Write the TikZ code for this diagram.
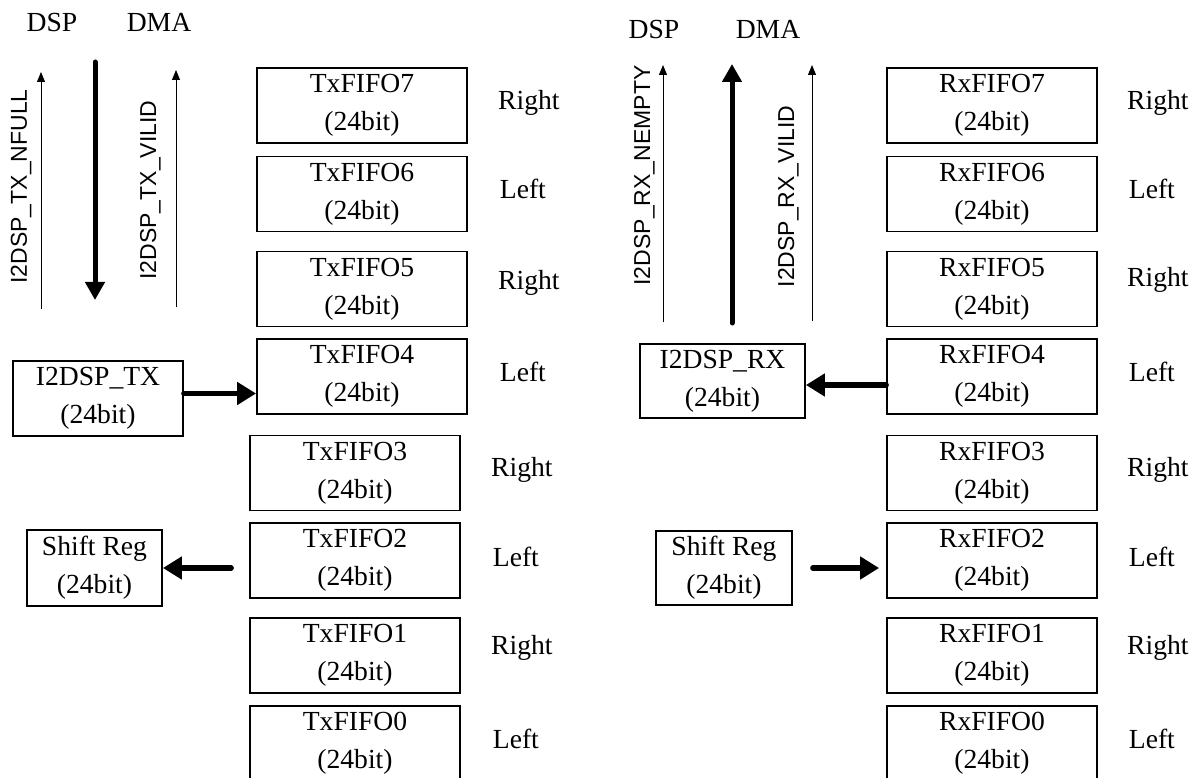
\documentclass[tikz,border=0pt]{standalone}
\usepackage{fontspec}
\setmainfont{Liberation Serif}
\newfontfamily\arialfont{Liberation Sans}
\usetikzlibrary{arrows.meta,calc}
\begin{document}
\begin{tikzpicture}[x=1pt,y=-1pt,
  fifo/.style={draw,line width=1.8pt,minimum width=210pt,minimum height=75pt,inner sep=0pt,align=center,font=\fontsize{27.6}{38}\selectfont},
  lbl/.style={font=\fontsize{27.6}{33}\selectfont,inner sep=0pt,anchor=base},
  sig/.style={font=\arialfont\fontsize{23}{27}\selectfont,rotate=90,anchor=base,inner sep=0pt},
  thinarrow/.style={line width=1pt,-{Triangle[width=8pt,length=10pt]}},
  thickarrow/.style={line width=5pt,line cap=round,-{Triangle[width=19pt,length=18pt]}},
  harrow/.style={line width=5.5pt,line cap=round,-{Triangle[width=22pt,length=19pt]}}]
\useasboundingbox (0,0) rectangle (1200,778);

% ---------- TX side ----------
\node[lbl] (dsptx) at (52,32) {DSP};
\node[lbl] (dmatx) at (159,32) {DMA};

\coordinate (tn0) at (41,309);
\coordinate (tn1) at (41,72);
\draw[thinarrow] (tn0) -- (tn1);
\node[sig] (nfull) at (27,186.5) {I2DSP\_TX\_NFULL};

\coordinate (td0) at (95,62);
\coordinate (td1) at (95,300);
\draw[thickarrow] (td0) -- (td1);

\coordinate (tv0) at (176,307);
\coordinate (tv1) at (176,70);
\draw[thinarrow] (tv0) -- (tv1);
\node[sig] (tvilid) at (156,190) {I2DSP\_TX\_VILID};

\node[fifo] (tx7) at (362,105.5) {TxFIFO7\\(24bit)};
\node[fifo] (tx6) at (362,194) {TxFIFO6\\(24bit)};
\node[fifo] (tx5) at (362,289) {TxFIFO5\\(24bit)};
\node[fifo] (tx4) at (362,376.5) {TxFIFO4\\(24bit)};
\node[fifo] (tx3) at (355,473) {TxFIFO3\\(24bit)};
\node[fifo] (tx2) at (355,560.5) {TxFIFO2\\(24bit)};
\node[fifo] (tx1) at (355,655.5) {TxFIFO1\\(24bit)};
\node[fifo] (tx0) at (355,743.5) {TxFIFO0\\(24bit)};

\node[lbl] (lt7) at ($(tx7.east)+(61,4)$) {Right};
\node[lbl] (lt6) at ($(tx6.east)+(55,5)$) {Left};
\node[lbl] (lt5) at ($(tx5.east)+(61,1)$) {Right};
\node[lbl] (lt4) at ($(tx4.east)+(55,5)$) {Left};
\node[lbl] (lt3) at ($(tx3.east)+(61,3)$) {Right};
\node[lbl] (lt2) at ($(tx2.east)+(55,6)$) {Left};
\node[lbl] (lt1) at ($(tx1.east)+(61,-1)$) {Right};
\node[lbl] (lt0) at ($(tx0.east)+(55,5)$) {Left};

\node[fifo,minimum width=170pt] (txreg) at (98,398.5) {I2DSP\_TX\\(24bit)};
\draw[harrow] ($(txreg.east)+(0,-5)$) -- ($(txreg.east -| tx4.west)+(0,-5)$);

\node[fifo,minimum width=135pt,minimum height=76pt] (shl) at (94.5,568) {Shift Reg\\(24bit)};
\draw[harrow] ($(shl.east -| tx2.west)+(-18,0)$) -- (shl.east);

% ---------- RX side ----------
\node[lbl] (dsprx) at (654,39) {DSP};
\node[lbl] (dmarx) at (768,39) {DMA};

\coordinate (rn0) at (663,322);
\coordinate (rn1) at (663,65);
\draw[thinarrow] (rn0) -- (rn1);
\node[sig] (nempty) at (650,175.5) {I2DSP\_RX\_NEMPTY};

\coordinate (rd0) at (732,323);
\coordinate (rd1) at (732,64);
\draw[thickarrow] (rd0) -- (rd1);

\coordinate (rv0) at (812,321);
\coordinate (rv1) at (812,65);
\draw[thinarrow] (rv0) -- (rv1);
\node[sig] (rvilid) at (794,196.5) {I2DSP\_RX\_VILID};

\node[fifo] (rx7) at (992,105.5) {RxFIFO7\\(24bit)};
\node[fifo] (rx6) at (992,194) {RxFIFO6\\(24bit)};
\node[fifo] (rx5) at (992,289) {RxFIFO5\\(24bit)};
\node[fifo] (rx4) at (992,376.5) {RxFIFO4\\(24bit)};
\node[fifo] (rx3) at (992,473) {RxFIFO3\\(24bit)};
\node[fifo] (rx2) at (992,560.5) {RxFIFO2\\(24bit)};
\node[fifo] (rx1) at (992,655.5) {RxFIFO1\\(24bit)};
\node[fifo] (rx0) at (992,743.5) {RxFIFO0\\(24bit)};

\node[lbl] (lr7) at ($(rx7.east)+(60,4)$) {Right};
\node[lbl] (lr6) at ($(rx6.east)+(54,5)$) {Left};
\node[lbl] (lr5) at ($(rx5.east)+(60,-2)$) {Right};
\node[lbl] (lr4) at ($(rx4.east)+(54,5)$) {Left};
\node[lbl] (lr3) at ($(rx3.east)+(60,3)$) {Right};
\node[lbl] (lr2) at ($(rx2.east)+(54,6)$) {Left};
\node[lbl] (lr1) at ($(rx1.east)+(60,-1)$) {Right};
\node[lbl] (lr0) at ($(rx0.east)+(54,5)$) {Left};

\node[fifo,minimum width=165pt,minimum height=74pt] (rxreg) at (722.5,381) {I2DSP\_RX\\(24bit)};
\draw[harrow] ($(rxreg.east -| rx4.west)+(0,4)$) -- ($(rxreg.east)+(0,4)$);

\node[fifo,minimum width=136pt,minimum height=74pt] (shr) at (724,568) {Shift Reg\\(24bit)};
\draw[harrow] ($(shr.east)+(20,0)$) -- ($(shr.east -| rx2.west)+(-7,0)$);
\end{tikzpicture}
\end{document}
